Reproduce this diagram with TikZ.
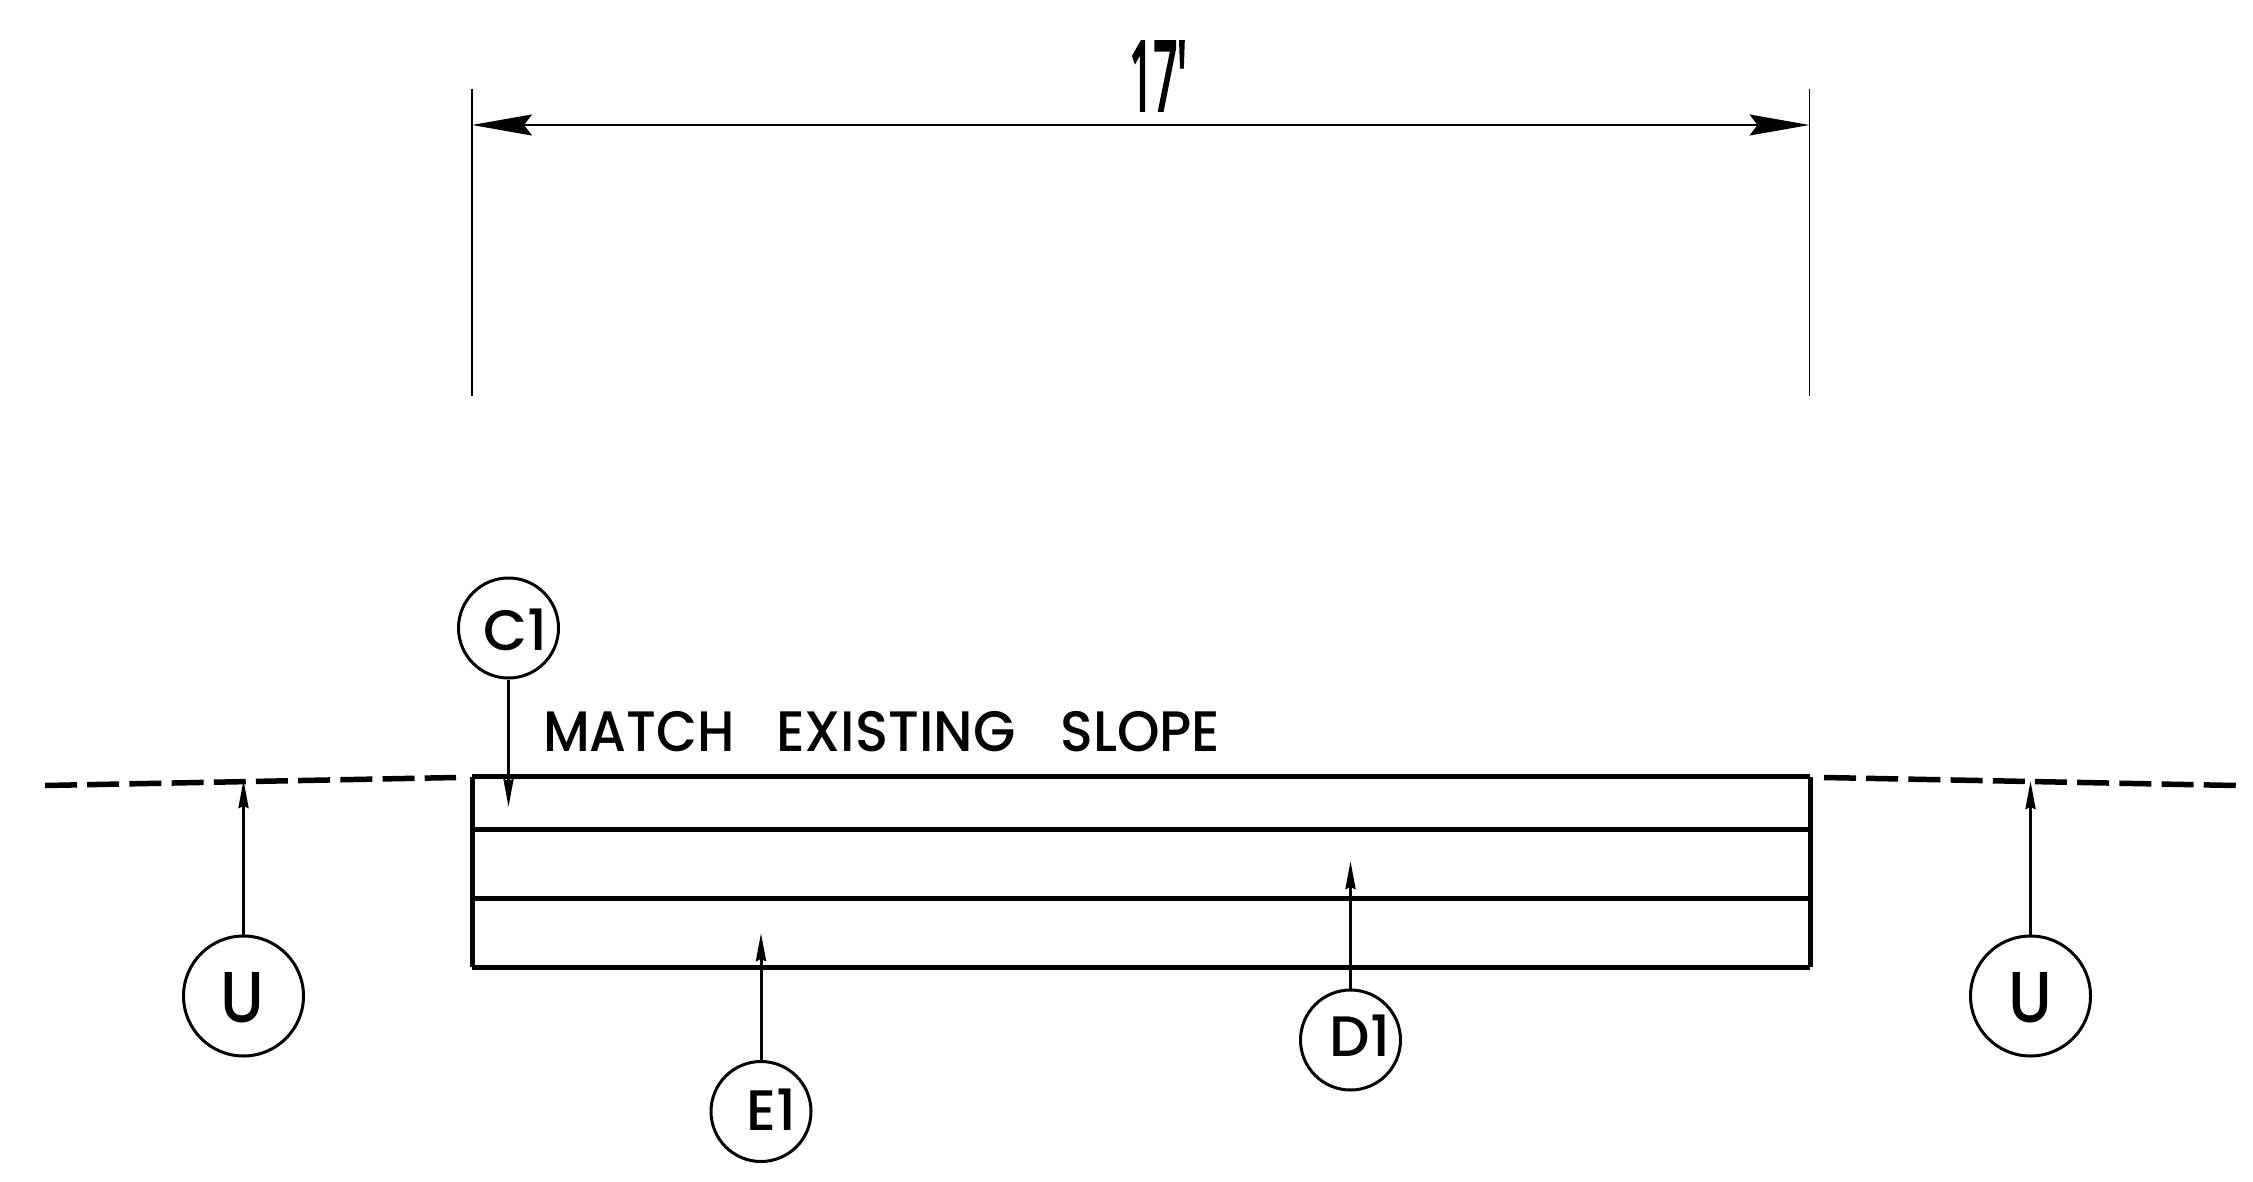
\documentclass[tikz,border=0pt]{standalone}
\usepackage{fontspec}
\setmainfont{Poppins Medium}
\newfontfamily\dimfont[FakeBold=4]{Noto Sans}
\usetikzlibrary{arrows.meta}
\tikzset{
  heavy/.style={line width=5pt,line cap=butt},
  dashline/.style={line width=5.5pt,dash pattern=on 32pt off 10.2pt},
  thin ext/.style={line width=1.3pt},
  dimline/.style={line width=2.2pt,{Stealth[length=60pt,width=21pt,inset=8pt]}-{Stealth[length=60pt,width=21pt,inset=8pt]}},
  leader/.style={line width=3pt,-{Stealth[length=28pt,width=10pt,inset=2pt]}},
  bubble/.style={circle,draw,line width=3pt,inner sep=0pt,minimum size=100pt},
  bubbleU/.style={circle,draw,line width=3pt,inner sep=0pt,minimum size=120pt},
  lab/.style={inner sep=0pt,font=\fontsize{57}{57}\selectfont},
  labU/.style={inner sep=0pt,font=\fontsize{72}{72}\selectfont},
}
\begin{document}
\begin{tikzpicture}[x=1pt,y=-1pt]
\path[use as bounding box] (0,0) rectangle (2253,1182);
% dimension
\coordinate (eltop) at (472,89); \coordinate (elbot) at (472,396);
\coordinate (ertop) at (1809.5,89); \coordinate (erbot) at (1809.5,396);
\coordinate (dl) at (472,125); \coordinate (dr) at (1809.5,125);
\draw[thin ext] (eltop) -- (elbot);
\draw[thin ext] (ertop) -- (erbot);
\draw[dimline] (dl) -- (dr);
\node[inner sep=0pt] (dimtext) at (1158,76) {\scalebox{0.44}[1]{\fontsize{95}{95}\dimfont 17'}};
% slab
\coordinate (tl) at (472,776.5); \coordinate (tr) at (1810,776.5);
\coordinate (al) at (472,829); \coordinate (ar) at (1810,829);
\coordinate (bl) at (472,898); \coordinate (br) at (1810,898);
\coordinate (cl) at (472,967); \coordinate (cr) at (1810,967);
\draw[heavy] (tl) -- (tr);
\draw[heavy] (al) -- (ar);
\draw[heavy] (bl) -- (br);
\draw[heavy] (cl) -- (cr);
\draw[heavy] (tl) -- (cl);
\draw[heavy] (tr) -- (cr);
% existing grade
\coordinate (gl1) at (45,785.5); \coordinate (gl2) at (456,777.5);
\coordinate (gr1) at (1824,777.5); \coordinate (gr2) at (2236,785.5);
\draw[dashline] (gl1) -- (gl2);
\draw[dashline] (gr1) -- (gr2);
\node[lab,anchor=west] (note) at (543,732) {\scalebox{0.93}[1]{MATCH}\hspace{41pt}\scalebox{0.96}[1]{EXISTING}\hspace{45pt}\scalebox{0.95}[1]{SLOPE}};
% bubbles
\node[bubble] (c1) at (508.5,628) {};
\node[bubble] (e1) at (761,1111.5) {};
\node[bubble] (d1) at (1350.5,1040) {};
\node[bubbleU] (ul) at (243.5,996) {};
\node[bubbleU] (ur) at (2030.5,996) {};
\node[lab] (c1t) at (515.5,630) {C1};
\node[lab] (e1t) at (771.5,1110) {E1};
\node[lab] (d1t) at (1360,1036) {D1};
\node[labU] (ult) at (242.5,998) {\scalebox{0.88}[1]{U}};
\node[labU] (urt) at (2030,998) {\scalebox{0.88}[1]{U}};
% leaders
\coordinate (c1p) at (508.5,807);
\coordinate (e1p) at (761,933);
\coordinate (d1p) at (1350.5,861);
\coordinate (ulp) at (243.5,780);
\coordinate (urp) at (2030.5,781);
\draw[leader] (c1.south) -- (c1p);
\draw[leader] (e1.north) -- (e1p);
\draw[leader] (d1.north) -- (d1p);
\draw[leader] (ul.north) -- (ulp);
\draw[leader] (ur.north) -- (urp);
\end{tikzpicture}
\end{document}
